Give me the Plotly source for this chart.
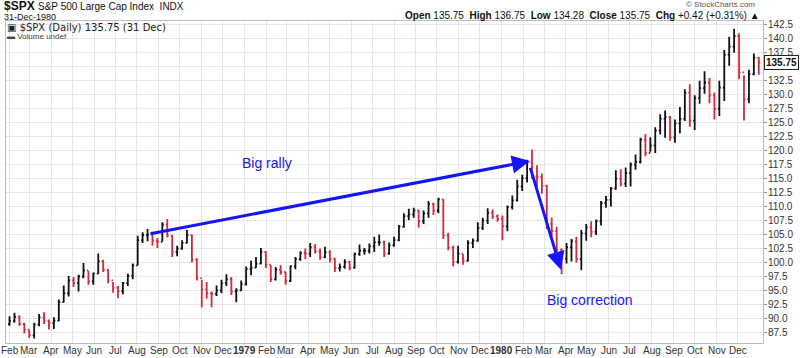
import pandas as pd
import plotly.graph_objects as go

# ---- Data (weekly bars), weeks starting Wed 1978-02-01 ----
first_open = 89.0
highs = [
    90.4, 91.0, 90.5, 89.2, 88.0, 89.2, 90.8, 91.1, 89.8, 90.2, 93.4, 95.9, 97.6, 97.4, 97.8, 99.9,
    98.5, 98.2, 101.6, 100.5, 98.8, 96.5, 95.8, 96.5, 98.0, 99.8, 104.8, 105.4, 106.0, 105.5, 104.4, 107.2,
    107.8, 104.9, 103.0, 104.0, 105.8, 105.0, 100.8, 96.9, 96.5, 94.8, 95.9, 96.9, 97.9, 97.4, 95.4, 96.8,
    # 1979
    99.3, 100.3, 101.0, 102.6, 102.0, 99.5, 99.2, 99.5, 98.3, 99.5, 101.0, 102.0, 102.5, 103.5, 103.3, 102.5,
    102.8, 102.2, 100.8, 99.8, 100.6, 100.3, 101.8, 103.2, 102.6, 103.4, 104.6, 105.0, 103.9, 103.6, 104.6, 106.7,
    108.8, 109.6, 109.8, 109.4, 109.3, 111.0, 110.7, 111.6, 111.3, 105.3, 103.0, 103.0, 101.5, 104.0, 104.3, 107.2,
    108.0, 109.7, 109.5, 108.6,
    # 1980
    108.4, 110.2, 112.0, 114.8, 115.7, 118.4, 120.2, 117.4, 115.9, 113.9, 108.0, 106.4, 102.5, 103.5, 104.2, 104.6,
    105.8, 106.9, 107.4, 107.7, 111.0, 111.9, 113.5, 116.5, 116.7, 117.0, 117.9, 119.3, 122.3, 123.0, 122.4, 124.2,
    126.5, 127.2, 126.2, 125.6, 127.8, 131.0, 131.9, 129.9, 132.5, 134.2, 133.0, 130.4, 132.5, 138.0, 140.4, 141.8,
    141.0, 133.5, 134.5, 137.4, 136.75,
]
lows = [
    88.7, 89.2, 88.7, 87.3, 86.5, 86.4, 88.6, 89.0, 88.0, 88.1, 89.5, 92.9, 93.9, 95.6, 94.8, 97.2,
    96.0, 96.0, 98.0, 98.3, 96.3, 94.6, 93.6, 94.3, 95.8, 97.0, 99.5, 103.5, 103.8, 103.0, 102.6, 103.8,
    104.5, 101.0, 101.1, 102.3, 103.4, 100.0, 96.8, 92.0, 93.5, 92.0, 94.0, 94.5, 95.8, 94.2, 92.9, 94.9,
    # 1979
    95.9, 97.7, 99.0, 99.7, 99.0, 96.5, 96.8, 97.8, 96.0, 96.5, 98.8, 100.3, 100.6, 101.0, 101.6, 100.5,
    100.8, 100.0, 98.3, 98.4, 98.9, 98.6, 98.9, 101.2, 101.4, 101.6, 101.9, 103.0, 101.0, 101.4, 102.8, 103.8,
    106.2, 107.6, 108.0, 106.2, 106.9, 108.0, 108.5, 108.8, 104.2, 102.2, 99.3, 99.8, 99.6, 100.2, 102.6, 103.7,
    105.8, 106.9, 107.8, 107.3,
    # 1980
    104.0, 105.6, 109.5, 110.9, 112.8, 114.3, 115.0, 113.6, 112.3, 106.0, 104.6, 101.6, 97.9, 99.8, 100.2, 100.0,
    98.6, 103.9, 104.5, 104.9, 106.6, 109.8, 110.0, 113.0, 113.6, 113.5, 113.6, 116.6, 117.7, 119.0, 119.8, 119.6,
    122.9, 122.3, 121.8, 121.4, 123.1, 125.3, 124.3, 123.7, 128.4, 130.2, 128.5, 125.6, 126.2, 128.9, 135.2, 137.5,
    132.8, 125.4, 128.5, 133.5, 133.6,
]
closes = [
    89.6, 90.3, 89.0, 88.0, 87.0, 88.9, 90.2, 89.5, 89.2, 89.6, 92.9, 94.5, 96.8, 96.3, 97.5, 98.6,
    96.6, 98.0, 100.2, 98.7, 96.8, 95.5, 94.9, 96.3, 97.6, 99.5, 104.0, 104.9, 105.0, 103.9, 103.7, 106.8,
    104.8, 101.9, 102.5, 103.5, 104.9, 100.5, 97.2, 95.2, 94.5, 94.4, 95.0, 96.3, 97.0, 94.8, 95.0, 96.1,
    # 1979
    98.8, 99.1, 99.8, 101.9, 99.6, 97.0, 98.7, 98.3, 96.7, 99.3, 100.6, 101.7, 101.6, 102.7, 102.0, 100.9,
    101.8, 100.7, 99.0, 99.2, 100.1, 99.1, 101.5, 102.1, 102.1, 102.9, 103.6, 103.6, 101.6, 103.1, 104.0, 106.4,
    108.3, 108.6, 109.3, 107.4, 108.8, 110.5, 109.3, 111.3, 104.8, 102.7, 100.1, 101.6, 100.3, 103.5, 103.9, 106.2,
    107.5, 108.9, 108.3, 107.8,
    # 1980
    106.5, 109.9, 111.1, 113.6, 115.1, 117.9, 115.4, 115.3, 113.7, 106.9, 105.6, 102.3, 100.7, 102.7, 103.8, 100.6,
    105.2, 106.3, 105.5, 107.4, 110.6, 111.2, 113.2, 115.0, 114.1, 116.0, 117.5, 118.0, 122.0, 119.6, 120.9, 123.6,
    125.7, 126.0, 122.4, 124.9, 125.7, 130.4, 125.4, 129.4, 131.2, 132.2, 129.9, 127.5, 131.3, 137.2, 138.6, 140.5,
    134.0, 129.2, 133.7, 136.6, 135.75,
]
opens = [first_open] + closes[:-1]
weeks = pd.date_range("1978-02-01", periods=len(closes), freq="7D")

y_ticks = [87.5 + 2.5 * i for i in range(23)]
month_ticks = pd.date_range("1978-02-01", "1980-12-01", freq="MS")
month_text = [f"<b>{d.year}</b>" if d.month == 1 else d.strftime("%b") for d in month_ticks]

BLUE = "#1414ff"
FONT = "Liberation Sans, Arial, sans-serif"

fig = go.Figure()
fig.add_trace(go.Ohlc(
    x=weeks, open=opens, high=highs, low=lows, close=closes,
    increasing=dict(line=dict(color="#111111", width=1.8)),
    decreasing=dict(line=dict(color="#d42a3c", width=1.8)),
    tickwidth=0.3, showlegend=False, hoverinfo="skip",
))

# arrows
fig.add_annotation(x="1980-02-10", y=118.15, ax="1978-08-18", ay=105.1,
                   xref="x", yref="y", axref="x", ayref="y", showarrow=True,
                   arrowhead=2, arrowsize=1.2, arrowwidth=3, arrowcolor=BLUE, text="")
fig.add_annotation(x="1980-03-25", y=98.7, ax="1980-02-10", ay=117.2,
                   xref="x", yref="y", axref="x", ayref="y", showarrow=True,
                   arrowhead=2, arrowsize=1.2, arrowwidth=3, arrowcolor=BLUE, text="")
fig.add_annotation(x="1979-02-02", y=117.8, text="Big rally", showarrow=False,
                   font=dict(family=FONT, size=14, color=BLUE))
fig.add_annotation(x="1980-05-05", y=93.3, text="Big correction", showarrow=False,
                   font=dict(family=FONT, size=14, color=BLUE))

W0, W1, H0, H1 = 6, 763, 21, 343
def px(x):
    return (x - W0) / (W1 - W0)
def py(y):
    return (H1 - y) / (H1 - H0)

fig.add_annotation(xref="paper", yref="paper", x=px(2), y=py(5.5), xanchor="left", yanchor="middle",
                   showarrow=False, align="left",
                   text="<b>$SPX</b> <span style='font-size:10px'>S&P 500 Large Cap Index  INDX</span>",
                   font=dict(family=FONT, size=12, color="#111"))
fig.add_annotation(xref="paper", yref="paper", x=px(2), y=py(17.5), xanchor="left", yanchor="middle",
                   showarrow=False, text="31-Dec-1980", font=dict(family=FONT, size=9, color="#111"))
fig.add_annotation(xref="paper", yref="paper", x=px(5), y=py(27.5), xanchor="left", yanchor="middle",
                   showarrow=False, text="▣ $SPX (Daily) 135.75 (31 Dec)",
                   font=dict(family="DejaVu Sans, sans-serif", size=10, color="#222"))
fig.add_annotation(xref="paper", yref="paper", x=px(5), y=py(37), xanchor="left", yanchor="middle",
                   showarrow=False, text="▬ Volume undef",
                   font=dict(family=FONT, size=8, color="#444"))
fig.add_annotation(xref="paper", yref="paper", x=px(757), y=py(5), xanchor="right", yanchor="middle",
                   showarrow=False, text="© StockCharts.com",
                   font=dict(family=FONT, size=8, color="#555"))
fig.add_annotation(xref="paper", yref="paper", x=px(762), y=py(15), xanchor="right", yanchor="middle",
                   showarrow=False,
                   text="<b>Open</b> 135.75  <b>High</b> 136.75  <b>Low</b> 134.28  <b>Close</b> 135.75  "
                        "<b>Chg</b> +0.42 (+0.31%) ▲",
                   font=dict(family=FONT, size=10, color="#111"))
# right-side price labels
for v in y_ticks:
    if abs(v - 135.0) < 0.01:
        continue
    fig.add_annotation(xref="paper", yref="y", x=px(766), y=v, xanchor="left", yanchor="middle",
                       showarrow=False, text=f"{v:.1f}",
                       font=dict(family=FONT, size=10, color="#333"))
fig.add_annotation(xref="paper", yref="y", x=px(764), y=135.75, xanchor="left", yanchor="middle",
                   showarrow=False, text="<b>135.75</b>", bgcolor="white",
                   bordercolor="#222", borderwidth=1, borderpad=1,
                   font=dict(family=FONT, size=10, color="#111"))
# bottom month labels
for d, t in zip(month_ticks, month_text):
    fig.add_annotation(xref="x", yref="paper", x=d, y=py(350), xanchor="center", yanchor="middle",
                       showarrow=False, text=t, font=dict(family=FONT, size=10, color="#333"))

fig.update_layout(
    width=800, height=358,
    margin=dict(l=W0, r=800 - W1, t=H0, b=358 - H1, autoexpand=False),
    paper_bgcolor="white", plot_bgcolor="white",
    font=dict(family=FONT, size=10, color="#333"),
    xaxis=dict(type="date", range=["1978-01-27", "1981-01-06"],
               tickvals=month_ticks, showticklabels=False, automargin=False,
               showgrid=True, gridcolor="#e6e6e6", gridwidth=1,
               rangeslider=dict(visible=False),
               showline=True, linecolor="#bdbdbd", mirror=True,
               ticks="", fixedrange=True),
    yaxis=dict(side="right", range=[85.6, 143.2], tickvals=y_ticks, automargin=False,
               showticklabels=False,
               showgrid=True, gridcolor="#e6e6e6", gridwidth=1,
               showline=True, linecolor="#bdbdbd", mirror=True,
               ticks="outside", ticklen=3, tickcolor="#999", zeroline=False),
)

fig.write_html("out.html", config={"displayModeBar": False},
               post_script="document.body.style.margin='0px';")
